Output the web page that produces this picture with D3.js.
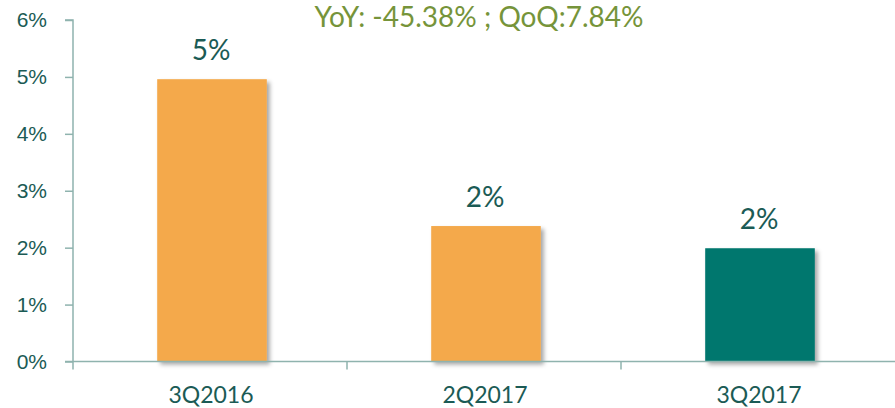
<!DOCTYPE html>
<html>
<head>
<meta charset="utf-8">
<script src="https://cdn.jsdelivr.net/npm/d3@7"></script>
<style>
  body { margin: 0; background: #fff; }
  svg { display: block; font-family: Lato, "Open Sans", sans-serif; }
</style>
</head>
<body>
<svg id="chart" width="895" height="408"></svg>
<script>
// quarters and ratio values (in %)
const quarters = ["3Q2016", "2Q2017", "3Q2017"]
const values = [4.96, 2.38, 1.99]
const barColors = ["#F4A94B", "#F4A94B", "#00776E"]
const yTicks = [0, 1, 2, 3, 4, 5, 6]
const titleText = "YoY: -45.38% ; QoQ:7.84%"

const width = 895, height = 408
const margin = {top: 20, right: 0, bottom: 46.5, left: 73}
const axisColor = "#8FB3AE"
const textColor = "#1B5B55"

const svg = d3.select("#chart")

// soft drop shadow like the office chart
const defs = svg.append("defs")
const shadow = defs.append("filter")
    .attr("id", "shadow")
    .attr("x", "-20%").attr("y", "-20%")
    .attr("width", "140%").attr("height", "140%")
shadow.append("feDropShadow")
    .attr("dx", 3).attr("dy", 3)
    .attr("stdDeviation", 2)
    .attr("flood-color", "#000")
    .attr("flood-opacity", 0.35)

const x = d3.scaleBand()
    .domain(quarters)
    .range([margin.left, width - margin.right])
    .padding(0)

const y = d3.scaleLinear()
    .domain([0, 6])
    .range([height - margin.bottom, margin.top])

const barW = x.bandwidth() * 0.4

// bars
svg.append("g")
    .selectAll("rect")
    .data(values)
    .enter()
    .append("rect")
    .attr("x", (d, i) => x(quarters[i]) + x.bandwidth() / 2 - barW / 2 + 2)
    .attr("y", d => y(d))
    .attr("width", barW)
    .attr("height", d => y(0) - y(d))
    .attr("fill", (d, i) => barColors[i])
    .attr("filter", "url(#shadow)")

// y axis
const yAxis = svg.append("g")
    .attr("transform", `translate(${margin.left},0)`)
    .call(d3.axisLeft(y).tickValues(yTicks).tickSize(8).tickPadding(18)
        .tickFormat(d => d + "%"))
yAxis.select(".domain").attr("stroke", axisColor).attr("stroke-width", 1.5)
    .attr("d", `M-8,${y(6)}H0V${y(0) + 8}`)
yAxis.selectAll(".tick line").attr("stroke", axisColor).attr("stroke-width", 1.5)
yAxis.selectAll(".tick text")
    .attr("fill", textColor)
    .attr("font-size", "21px")

// x axis line and category boundary ticks
const xAxis = svg.append("g")
xAxis.append("line")
    .attr("x1", margin.left - 8).attr("x2", width)
    .attr("y1", y(0)).attr("y2", y(0))
    .attr("stroke", axisColor).attr("stroke-width", 1.5)
xAxis.selectAll("line.sep")
    .data(quarters.slice(1))
    .enter()
    .append("line")
    .attr("class", "sep")
    .attr("x1", d => x(d)).attr("x2", d => x(d))
    .attr("y1", y(0)).attr("y2", y(0) + 8)
    .attr("stroke", axisColor).attr("stroke-width", 1.5)
xAxis.selectAll("text")
    .data(quarters)
    .enter()
    .append("text")
    .attr("x", d => x(d) + x.bandwidth() / 2 + 1)
    .attr("y", 403)
    .attr("text-anchor", "middle")
    .attr("fill", textColor)
    .attr("font-size", "23px")
    .text(d => d)

// value labels
svg.append("g")
    .selectAll("text")
    .data(values)
    .enter()
    .append("text")
    .attr("x", (d, i) => x(quarters[i]) + x.bandwidth() / 2 + 1)
    .attr("y", d => y(d) - 19)
    .attr("text-anchor", "middle")
    .attr("fill", textColor)
    .attr("font-size", "28px")
    .text(d => Math.round(d) + "%")

// title
svg.append("text")
    .attr("x", 479)
    .attr("y", 27)
    .attr("text-anchor", "middle")
    .attr("fill", "#76943A")
    .attr("font-size", "28px")
    .text(titleText)
</script>
</body>
</html>
